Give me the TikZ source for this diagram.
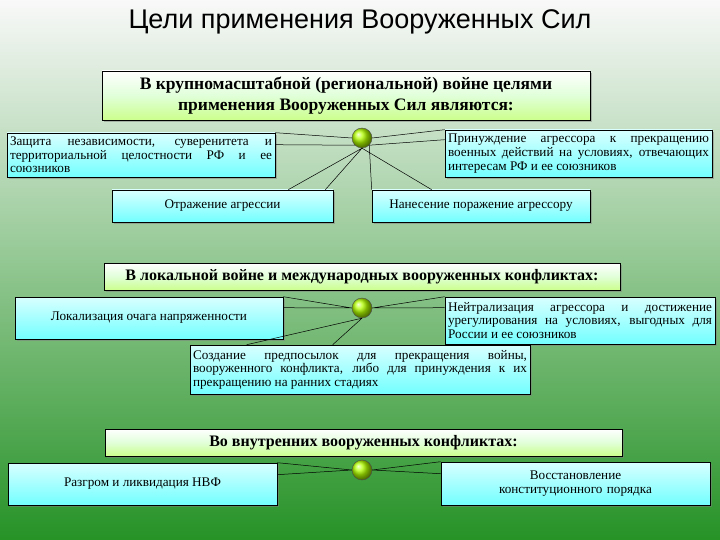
\documentclass[tikz,border=0pt]{standalone}
\usepackage{fontspec}
\setmainfont{Liberation Serif}
\newfontfamily\titlefont{Liberation Sans}
\usetikzlibrary{shadows}
\begin{document}
\begin{tikzpicture}[x=1pt,y=-1pt,
  hdr/.style={draw=black,line width=0.6pt,top color=white,bottom color=yellow!55!green!45,middle color=yellow!20!green!15,
    font=\bfseries\fontsize{16}{20}\selectfont,align=center,inner sep=2pt,
    drop shadow={shadow xshift=2pt,shadow yshift=-2pt,fill=black!50}},
  box/.style={draw=black,line width=0.6pt,top color=cyan!15,bottom color=cyan!55,
    font=\fontsize{13.2}{13.6}\selectfont,inner sep=2pt,
    drop shadow={shadow xshift=2pt,shadow yshift=-2pt,fill=black!50}},
  knob/.style={circle,draw=black!70,inner sep=0pt,minimum size=20pt,ball color=yellow!70!green},
  con/.style={black,line width=0.5pt}]
\shade[top color=white!95!gray,middle color=green!35!black!25!white,bottom color=green!50!black!85,shading angle=0]
  (0,0) rectangle (720,540);
\useasboundingbox (0,0) rectangle (720,540);
\node[font=\titlefont\fontsize{27}{29}\selectfont,black] (title) at (360,22) {Цели применения Вооруженных Сил};

% block 1
\node[hdr,minimum width=488pt,minimum height=49pt,font=\bfseries\fontsize{17.5}{21}\selectfont] (h1) at (346,95.5) {В крупномасштабной (региональной) войне целями\\применения Вооруженных Сил являются:};
\node[box,minimum width=268pt,minimum height=44pt,text width=262pt,align=justify] (b1) at (141,155) {Защита независимости, суверенитета и территориальной целостности РФ и ее союзников};
\node[box,minimum width=267pt,minimum height=47pt,text width=261pt,align=justify] (b2) at (578.5,153.5) {Принуждение агрессора к прекращению военных действий на условиях, отвечающих интересам РФ и ее союзников};
\node[box,minimum width=221pt,minimum height=32pt,align=center] (b3) at (222.5,206) {Отражение агрессии};
\node[box,minimum width=218pt,minimum height=32pt,align=center] (b4) at (481,206) {Нанесение поражение агрессору};
\node[knob] (k1) at (362,138) {};
\draw[con] (k1.west) -- (b1.north east) (k1.south west) -- ([yshift=-12pt]b1.north east);
\draw[con] (k1.east) -- (b2.north west) (k1.south east) -- ([yshift=-10pt]b2.north west);
\draw[con] (k1.south) -- ([xshift=-45pt]b3.north east) (k1.south) -- ([xshift=-8pt]b3.north east);
\draw[con] (k1.south) -- ([xshift=60pt]b4.north west) (k1.south east) -- ([xshift=0pt]b4.north west);

% block 2
\node[hdr,minimum width=516pt,minimum height=27pt] (h2) at (362,276.5) {В локальной войне и международных вооруженных конфликтах:};
\node[box,minimum width=268pt,minimum height=42pt,align=center] (c1) at (149,318) {Локализация очага напряженности};
\node[box,minimum width=270pt,minimum height=47pt,text width=264pt,align=justify] (c2) at (580,320.5) {Нейтрализация агрессора и достижение урегулирования на условиях, выгодных для России и ее союзников};
\node[box,minimum width=340pt,minimum height=49pt,text width=334pt,align=justify] (c3) at (360,369.5) {Создание предпосылок для прекращения войны, вооруженного конфликта, либо для принуждения к их прекращению на ранних стадиях};
\node[knob] (k2) at (362,308) {};
\draw[con] (k2.west) -- (c1.north east) (k2.west) -- ([yshift=-11pt]c1.north east);
\draw[con] (k2.east) -- (c2.north west) (k2.east) -- ([yshift=-11pt]c2.north west);
\draw[con] (k2.south) -- ([xshift=57pt]c3.north west) (k2.south) -- ([xshift=143pt]c3.north west);

% block 3
\node[hdr,minimum width=517pt,minimum height=27pt] (h3) at (363.5,442.5) {Во внутренних вооруженных конфликтах:};
\node[box,minimum width=269pt,minimum height=42pt,align=center] (d1) at (142.5,484) {Разгром и ликвидация НВФ};
\node[box,minimum width=269pt,minimum height=43pt,text width=215pt,align=center] (d2) at (575.5,483.5) {Восстановление конституционного порядка};
\node[knob] (k3) at (362,470) {};
\draw[con] (k3.west) -- (d1.north east) (k3.west) -- ([yshift=-12pt]d1.north east);
\draw[con] (k3.east) -- (d2.north west) (k3.east) -- ([yshift=-12pt]d2.north west);
\end{tikzpicture}
\end{document}
